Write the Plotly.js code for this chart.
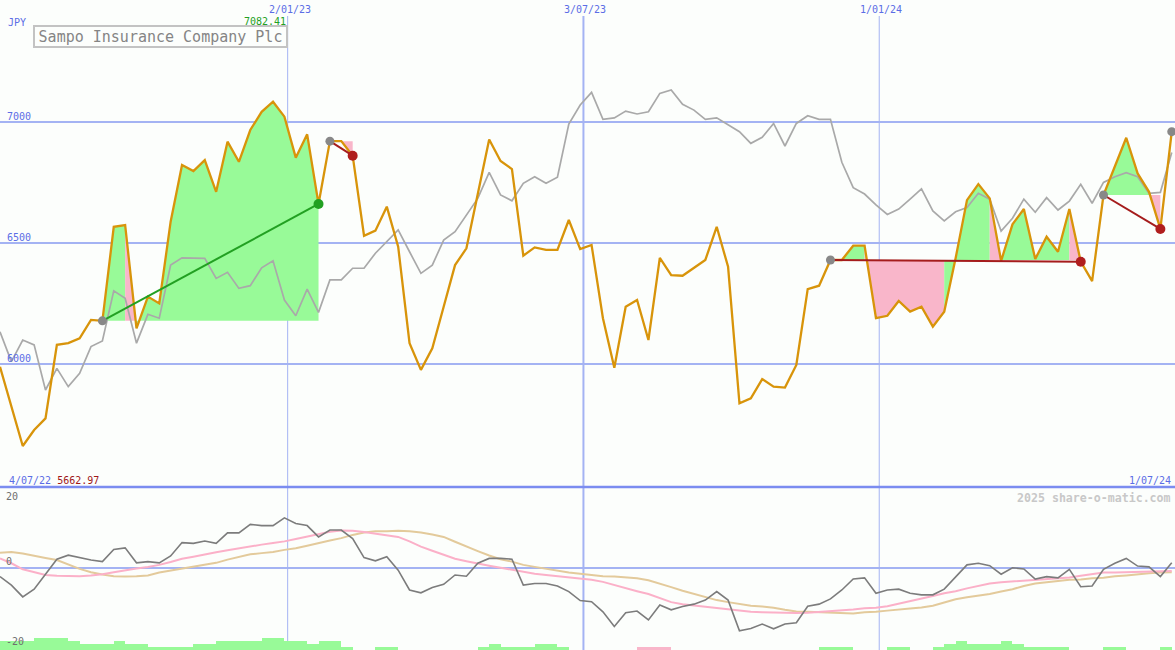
<!DOCTYPE html>
<html>
<head>
<meta charset="utf-8">
<script src="https://cdn.plot.ly/plotly-3.0.1.min.js"></script>
<style>
html,body{margin:0;padding:0;background:#fcfefc;}
#chart{width:1175px;height:650px;}
</style>
</head>
<body>
<div id="chart"></div>
<script>
// ---------------- DATA ----------------
const chartTitle = 'Sampo Insurance Company Plc';
const currency = 'JPY';
const firstWeek = '2022-07-09';          // first weekly close shown
const axisEnd = '2024-07-01';
const startLabel = '4/07/22';
const endLabel = '1/07/24';
const watermark = '2025 share-o-matic.com';

// weekly closing price (orange)
const price = [
  5990, 5830, 5662.97, 5729, 5777, 6080, 6087, 6107, 6183, 6179,
  6567, 6574, 6148, 6279, 6251, 6588, 6822, 6797, 6842, 6711,
  6918, 6835, 6966, 7041, 7082.41, 7021, 6852, 6948, 6661, 6920,
  6920, 6860, 6530, 6551, 6650, 6485, 6087, 5977, 6066, 6237,
  6409, 6478, 6700, 6927, 6838, 6805, 6448, 6482, 6472, 6472,
  6595, 6475, 6492, 6190, 5986, 6237, 6265, 6100, 6439, 6368,
  6365, 6396, 6430, 6567, 6402, 5839, 5860, 5939, 5908, 5904,
  5997, 6310, 6324, 6430, 6430, 6489, 6489, 6190, 6200, 6261,
  6217, 6237, 6155, 6217, 6437, 6677, 6743, 6684, 6426, 6577,
  6640, 6434, 6526, 6464, 6640, 6423, 6343, 6698, 6817, 6934,
  6787, 6711, 6558, 6959
];

// relative / comparison line (grey)
const compare = [
  6134, 6011, 6100, 6080, 5894, 5983, 5908, 5963, 6073, 6096,
  6303, 6272, 6087, 6206, 6190, 6409, 6439, 6437, 6437, 6354,
  6379, 6313, 6324, 6398, 6427, 6265, 6200, 6310, 6214, 6348,
  6348, 6396, 6396, 6458, 6505, 6554, 6464, 6375, 6409, 6512,
  6547, 6615, 6684, 6791, 6698, 6674, 6746, 6773, 6746, 6771,
  6990, 7069, 7121, 7010, 7016, 7044, 7032, 7041, 7117, 7131,
  7072, 7048, 7010, 7016, 6986, 6959, 6911, 6936, 6993, 6900,
  6993, 7025, 7010, 7010, 6833, 6728, 6702, 6657, 6618, 6640,
  6681, 6723, 6632, 6591, 6629, 6646, 6705, 6681, 6549, 6602,
  6681, 6627, 6687, 6636, 6673, 6742, 6664, 6750, 6773, 6790,
  6773, 6705, 6709, 6873
];

// lower panel: momentum (dark grey)
const momentum = [
  -2.2, -4.3, -7.2, -5.3, -1.6, 2.1, 3.1, 2.5, 1.9, 1.5,
  4.5, 4.9, 1.2, 1.5, 1.2, 2.9, 6.2, 6.0, 6.6, 6.0,
  8.6, 8.6, 10.7, 10.4, 10.4, 12.3, 10.9, 10.4, 7.6, 9.3,
  9.3, 7.2, 2.5, 1.7, 2.7, -0.6, -5.5, -6.2, -4.9, -4.1,
  -1.8, -2.1, 1.1, 2.3, 2.3, 2.1, -4.3, -3.9, -3.9, -4.5,
  -5.9, -8.1, -8.4, -10.9, -14.5, -11.1, -10.7, -12.9, -9.2, -10.4,
  -9.6, -9.0, -8.0, -5.9, -8.0, -15.6, -15.0, -13.9, -15.1, -13.9,
  -13.6, -9.5, -9.0, -7.7, -5.5, -2.8, -2.5, -6.3, -5.5, -5.3,
  -6.3, -6.7, -6.7, -5.3, -2.2, 0.7, 1.1, 0.5, -1.6, 0.0,
  -0.3, -2.8, -2.2, -2.5, -0.4, -4.7, -4.5, -0.4, 1.1, 2.3,
  0.4, 0.2, -2.2, 1.2
];

// lower panel: fast average (pink)
const avgFast = [
  2.3, 1.1, -0.4, -1.1, -1.8, -2.0, -2.1, -2.1, -1.9, -1.6,
  -1.1, -0.6, -0.2, 0.2, 0.7, 1.4, 2.2, 2.7, 3.3, 3.8,
  4.3, 4.8, 5.3, 5.7, 6.1, 6.5, 7.1, 7.7, 8.3, 8.9,
  9.2, 9.1, 8.8, 8.4, 8.1, 7.6, 6.5, 5.2, 4.2, 3.2,
  2.2, 1.6, 1.0, 0.5, 0.0, -0.5, -1.0, -1.5, -1.8, -2.1,
  -2.3, -2.6, -3.0, -3.5, -4.3, -5.1, -5.8, -6.5, -7.6, -8.5,
  -9.0, -9.3, -9.6, -9.9, -10.3, -10.6, -10.9, -11.0, -11.1, -11.2,
  -11.2, -11.1, -10.9, -10.8, -10.5, -10.3, -10.0, -9.9, -9.5, -8.9,
  -8.2, -7.6, -7.0, -6.3, -5.8, -5.1, -4.5, -3.9, -3.6, -3.4,
  -3.1, -3.0, -2.8, -2.6, -2.4, -2.0, -1.6, -1.2, -1.2, -1.1,
  -1.0, -0.9, -0.9, -0.8
];

// lower panel: slow average (tan)
const avgSlow = [
  3.7, 3.9, 3.5, 2.9, 2.4, 1.9, 0.8, -0.3, -1.1, -1.7,
  -2.1, -2.2, -2.1, -1.9, -1.2, -0.7, -0.2, 0.2, 0.7, 1.2,
  2.0, 2.7, 3.3, 3.6, 3.9, 4.4, 4.8, 5.4, 6.1, 6.7,
  7.3, 8.1, 8.7, 9.0, 9.0, 9.1, 9.0, 8.7, 8.2, 7.6,
  6.4, 5.2, 4.1, 3.0, 2.1, 1.5, 0.7, 0.2, -0.3, -0.7,
  -1.2, -1.5, -1.8, -2.1, -2.2, -2.4, -2.6, -3.1, -3.9, -4.8,
  -5.7, -6.5, -7.3, -8.0, -8.5, -9.0, -9.4, -9.6, -9.9, -10.4,
  -10.8, -10.9, -11.0, -11.1, -11.2, -11.3, -11.0, -10.9, -10.6, -10.4,
  -10.1, -9.8, -9.4, -8.6, -7.8, -7.3, -6.9, -6.5, -5.9, -5.3,
  -4.5, -3.9, -3.6, -3.3, -3.0, -2.9, -2.6, -2.5, -2.1, -1.9,
  -1.6, -1.4, -1.2, -1.1
];

// lower panel: weekly signal bars (positive = green, negative = pink)
const signalBars = [
  3, 3, 3, 4, 4, 4, 3, 2, 2, 2,
  3, 2, 2, 1, 1, 1, 1, 2, 2, 3,
  3, 3, 3, 4, 4, 3, 3, 2, 3, 3,
  1, 0, 0, 1, 1, 0, 0, 0, 0, 0,
  0, 0, 1, 2, 1, 1, 1, 2, 2, 1,
  0, 0, 0, 0, 0, 0, -1, -1, -1, 0,
  0, 0, 0, 0, 0, 0, 0, 0, 0, 0,
  0, 0, 1, 1, 1, 0, 0, 0, 1, 1,
  0, 0, 1, 2, 3, 2, 2, 2, 3, 2,
  1, 1, 1, 1, 0, 0, 0, 1, 1, 0,
  0, 0, 1, 0
];

// trades (week indices)
const tradeEntries = [9, 29, 73, 97, 103];
const tradeExits   = [28, 31, 95, 102, null];

// axis ticks
const dateTicks  = ['2023-01-02', '2023-07-03', '2024-01-01'];
const dateLabels = ['2/01/23', '3/07/23', '1/01/24'];
const priceTicks = [6000, 6500, 7000];
const lowerTicks = [20, 0, -20];

// ---------------- STYLE ----------------
const BG = '#fcfefc';
const GRID = '#a4b3f3';
const AXIS_BLUE = '#5b6de6';
const ORANGE = '#d8940a';
const GREYLINE = '#a9a9a9';
const FILL_GREEN = '#98fa98';
const FILL_PINK = '#f9b6ca';
const WIN = '#22a022';
const LOSS = '#a51c1c';
const MONO = 'DejaVu Sans Mono, Liberation Mono, monospace';

// ---------------- BUILD ----------------
const DAY = 864e5;
function addDays(iso, days) {
  return new Date(Date.parse(iso + 'T00:00:00Z') + days * DAY);
}
const dates = price.map((_, i) => addDays(firstWeek, 7 * i).toISOString().slice(0, 10));
const barDates = price.map((_, i) => addDays(firstWeek, 7 * i + 3.5).toISOString().slice(0, 16).replace('T', ' '));

const traces = [];

// trade fills between price and entry level
function pushFill(a, b, level, color) {
  const xs = dates.slice(a, b + 1).concat([dates[b], dates[a]]);
  const ys = price.slice(a, b + 1).concat([level, level]);
  traces.push({
    x: xs, y: ys, xaxis: 'x', yaxis: 'y', type: 'scatter', mode: 'lines',
    fill: 'toself', fillcolor: color, line: {width: 0, color: 'rgba(0,0,0,0)'},
    hoverinfo: 'skip', showlegend: false
  });
}
tradeEntries.forEach((e, t) => {
  const x = tradeExits[t];
  if (x === null) return;
  const level = price[e];
  let runStart = e, runColor = null;
  for (let k = e; k < x; k++) {
    const c = price[k + 1] >= level ? FILL_GREEN : FILL_PINK;
    if (runColor === null) { runColor = c; runStart = k; }
    else if (c !== runColor) { pushFill(runStart, k, level, runColor); runStart = k; runColor = c; }
  }
  pushFill(runStart, x, level, runColor);
});

// comparison line
traces.push({x: dates, y: compare, xaxis: 'x', yaxis: 'y', type: 'scatter', mode: 'lines',
  line: {color: GREYLINE, width: 1.7}, hoverinfo: 'skip', showlegend: false});

// price line
traces.push({x: dates, y: price, xaxis: 'x', yaxis: 'y', type: 'scatter', mode: 'lines',
  line: {color: ORANGE, width: 2.3}, hoverinfo: 'skip', showlegend: false});

// trade lines and dots
tradeEntries.forEach((e, t) => {
  const x = tradeExits[t];
  if (x !== null) {
    const col = price[x] > price[e] ? WIN : LOSS;
    traces.push({x: [dates[e], dates[x]], y: [price[e], price[x]], xaxis: 'x', yaxis: 'y',
      type: 'scatter', mode: 'lines', line: {color: col, width: 2}, hoverinfo: 'skip', showlegend: false});
  }
});
tradeEntries.forEach((e, t) => {
  const x = tradeExits[t];
  traces.push({x: [dates[e]], y: [price[e]], xaxis: 'x', yaxis: 'y', type: 'scatter', mode: 'markers',
    marker: {color: '#888888', size: 9}, hoverinfo: 'skip', showlegend: false});
  if (x !== null) {
    const col = price[x] > price[e] ? WIN : '#b01e1e';
    traces.push({x: [dates[x]], y: [price[x]], xaxis: 'x', yaxis: 'y', type: 'scatter', mode: 'markers',
      marker: {color: col, size: 10}, hoverinfo: 'skip', showlegend: false});
  }
});

// lower panel bars
traces.push({x: barDates, y: signalBars.map(v => Math.abs(v)), xaxis: 'x2', yaxis: 'y3', type: 'bar',
  width: 7 * DAY, marker: {color: signalBars.map(v => v < 0 ? FILL_PINK : FILL_GREEN), line: {width: 0}},
  hoverinfo: 'skip', showlegend: false});
traces.push({x: dates, y: avgSlow, xaxis: 'x2', yaxis: 'y2', type: 'scatter', mode: 'lines',
  line: {color: '#e3ca9b', width: 2}, hoverinfo: 'skip', showlegend: false});
traces.push({x: dates, y: avgFast, xaxis: 'x2', yaxis: 'y2', type: 'scatter', mode: 'lines',
  line: {color: '#fbb0c8', width: 2}, hoverinfo: 'skip', showlegend: false});
traces.push({x: dates, y: momentum, xaxis: 'x2', yaxis: 'y2', type: 'scatter', mode: 'lines',
  line: {color: '#7c7c7c', width: 1.6}, hoverinfo: 'skip', showlegend: false});

// ---------------- LAYOUT ----------------
const mainBottom = 1 - 487 / 650;
const lowerTop = 162 / 650;
const lowerRange = [-20.32, 19.68];

const annotations = [];
// title box
annotations.push({xref: 'paper', yref: 'paper', x: 33 / 1175, y: 1 - 25 / 650, xanchor: 'left', yanchor: 'top',
  text: chartTitle, showarrow: false, font: {family: MONO, size: 15, color: '#858585'},
  bordercolor: '#c3c3c3', borderwidth: 2, borderpad: 1, bgcolor: BG, width: 249, height: 17, align: 'center'});
annotations.push({xref: 'paper', yref: 'paper', x: 6 / 1175, y: 1 - 15 / 650, xanchor: 'left', yanchor: 'top',
  text: currency, showarrow: false, font: {family: MONO, size: 10, color: AXIS_BLUE}});
// date labels on top
dateTicks.forEach((d, i) => annotations.push({xref: 'x', yref: 'paper', x: d, y: 1 - 2 / 650, xanchor: 'center',
  yanchor: 'top', xshift: 2, text: dateLabels[i], showarrow: false, font: {family: MONO, size: 10, color: AXIS_BLUE}}));
// max label
const maxVal = Math.max(...price);
const maxIdx = price.indexOf(maxVal);
annotations.push({xref: 'x', yref: 'paper', x: dates[maxIdx], y: 1 - 14 / 650, xanchor: 'right', yanchor: 'top',
  xshift: 15, text: maxVal.toFixed(2), showarrow: false, font: {family: MONO, size: 10, color: WIN}});
// price axis labels
priceTicks.forEach(v => annotations.push({xref: 'paper', yref: 'y', x: 5 / 1175, y: v, xanchor: 'left',
  yanchor: 'bottom', yshift: -2, text: String(v), showarrow: false, font: {family: MONO, size: 10, color: AXIS_BLUE}}));
// bottom-of-main labels
const minVal = Math.min(...price);
annotations.push({xref: 'paper', yref: 'paper', x: 7 / 1175, y: 1 - 473 / 650, xanchor: 'left', yanchor: 'top',
  text: startLabel + ' <span style="color:#a01818">' + minVal.toFixed(2) + '</span>', showarrow: false,
  font: {family: MONO, size: 10, color: AXIS_BLUE}});
annotations.push({xref: 'paper', yref: 'paper', x: 1173 / 1175, y: 1 - 473 / 650, xanchor: 'right', yanchor: 'top',
  text: endLabel, showarrow: false, font: {family: MONO, size: 10, color: AXIS_BLUE}});
// watermark
annotations.push({xref: 'paper', yref: 'paper', x: 1173 / 1175, y: 1 - 489 / 650, xanchor: 'right', yanchor: 'top',
  text: '<b>' + watermark + '</b>', showarrow: false, font: {family: MONO, size: 11.6, color: '#c8c8c8'}});
// lower axis labels (converted to paper coordinates so edge labels stay visible)
const lowerAnchors = ['top', 'bottom', 'bottom'];
const lowerShifts = [-1, -1, 0];
lowerTicks.forEach((v, i) => {
  const frac = Math.min(1, Math.max(0, (v - lowerRange[0]) / (lowerRange[1] - lowerRange[0])));
  annotations.push({xref: 'paper', yref: 'paper', x: 4 / 1175, y: frac * lowerTop, xanchor: 'left',
    yanchor: lowerAnchors[i], yshift: lowerShifts[i], text: String(v), showarrow: false,
    font: {family: MONO, size: 10, color: '#6f6f6f'}});
});

const shapes = [];
const vWidths = [1, 2, 1];
dateTicks.forEach((d, i) => shapes.push({type: 'line', xref: 'x', yref: 'paper', x0: d, x1: d,
  y0: 0, y1: 1 - 16 / 650, line: {color: GRID, width: vWidths[i]}, layer: 'below'}));
shapes.push({type: 'line', xref: 'paper', yref: 'paper', x0: 0, x1: 1, y0: mainBottom, y1: mainBottom,
  line: {color: '#7b8cf0', width: 2.7}, layer: 'above'});

const layout = {
  width: 1175, height: 650,
  margin: {l: 0, r: 0, t: 0, b: 0, pad: 0},
  paper_bgcolor: BG, plot_bgcolor: BG,
  showlegend: false,
  xaxis: {type: 'date', range: [firstWeek, axisEnd], domain: [0, 1], anchor: 'y',
    showgrid: false, showticklabels: false, zeroline: false, showline: false, ticks: '', fixedrange: true},
  yaxis: {range: [5494, 7502], domain: [mainBottom, 1], anchor: 'x', tickvals: priceTicks,
    showgrid: true, gridcolor: GRID, gridwidth: 2, showticklabels: false, zeroline: false, showline: false, ticks: ''},
  xaxis2: {type: 'date', range: [firstWeek, axisEnd], domain: [0, 1], anchor: 'y2',
    showgrid: false, showticklabels: false, zeroline: false, showline: false, ticks: ''},
  yaxis2: {range: lowerRange, domain: [0, lowerTop], anchor: 'x2', tickvals: [0],
    showgrid: true, gridcolor: GRID, gridwidth: 2, showticklabels: false, zeroline: false, showline: false, ticks: ''},
  yaxis3: {range: [0, 54], overlaying: 'y2', anchor: 'x2', showgrid: false, showticklabels: false,
    zeroline: false, showline: false, ticks: ''},
  annotations: annotations,
  shapes: shapes,
  bargap: 0
};

Plotly.newPlot('chart', traces, layout, {staticPlot: true, displayModeBar: false});
</script>
</body>
</html>
